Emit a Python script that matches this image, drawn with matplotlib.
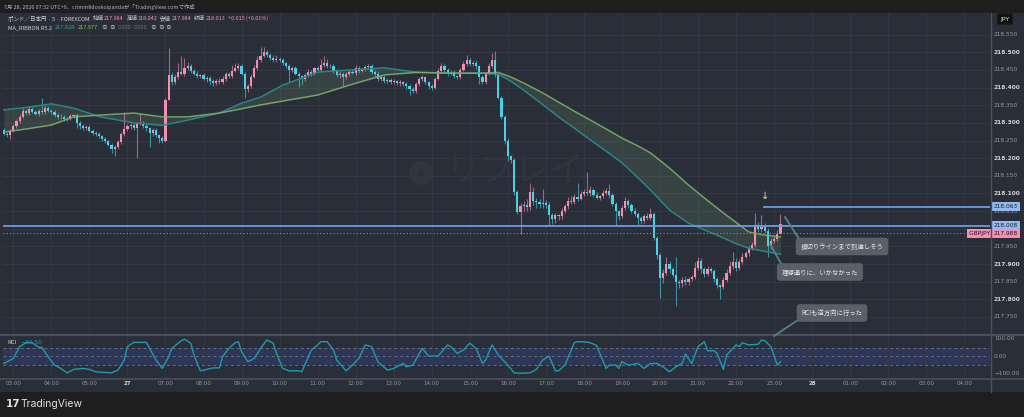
import numpy as np
import matplotlib
matplotlib.use('Agg')
import matplotlib.pyplot as plt
from matplotlib.patches import Rectangle, Circle
from matplotlib.lines import Line2D
from matplotlib.transforms import IdentityTransform

W, H = 1024, 417
FAM = ['Noto Sans CJK JP', 'DejaVu Sans']
plt.rcParams['font.family'] = FAM

# ---------------- data ----------------
closes = [
 218.270,218.265,218.278,218.290,218.305,218.318,218.335,218.328,218.340,218.332,
 218.326,218.335,218.330,218.342,218.335,218.330,218.322,218.316,218.318,218.310,
 218.312,218.320,218.322,218.300,218.292,218.285,218.288,218.278,218.272,218.268,
 218.262,218.255,218.248,218.238,218.225,218.232,218.245,218.268,218.282,218.290,
 218.295,218.285,218.298,218.300,218.292,218.285,218.272,218.280,218.265,218.258,
 218.250,218.365,218.436,218.415,218.430,218.445,218.440,218.455,218.462,218.448,
 218.440,218.432,218.436,218.425,218.428,218.418,218.412,218.420,218.415,218.425,
 218.438,218.432,218.448,218.455,218.462,218.440,218.395,218.405,218.430,218.455,
 218.478,218.490,218.502,218.492,218.485,218.478,218.482,218.478,218.470,218.462,
 218.450,218.455,218.440,218.432,218.425,218.435,218.445,218.440,218.455,218.450,
 218.465,218.470,218.460,218.462,218.448,218.435,218.440,218.430,218.438,218.445,
 218.442,218.455,218.448,218.452,218.458,218.462,218.445,218.440,218.425,218.430,
 218.418,218.422,218.415,218.418,218.412,218.416,218.410,218.405,218.395,218.390,
 218.410,218.425,218.430,218.415,218.405,218.400,218.425,218.448,218.460,218.450,
 218.440,218.445,218.432,218.430,218.450,218.468,218.478,218.466,218.470,218.460,
 218.430,218.415,218.440,218.462,218.478,218.436,218.372,218.318,218.250,218.205,
 218.195,218.105,218.048,218.065,218.068,218.062,218.105,218.078,218.075,218.070,
 218.072,218.068,218.040,218.028,218.038,218.035,218.050,218.065,218.080,218.075,
 218.090,218.085,218.098,218.105,218.100,218.110,218.095,218.088,218.092,218.100,
 218.108,218.095,218.070,218.050,218.035,218.060,218.078,218.068,218.050,218.042,
 218.030,218.022,218.035,218.030,218.042,217.975,217.925,217.860,217.875,217.900,
 217.885,217.870,217.850,217.845,217.855,217.850,217.858,217.862,217.890,217.910,
 217.885,217.872,217.885,217.880,217.858,217.840,217.836,217.855,217.875,217.895,
 217.905,217.890,217.905,217.920,217.930,217.945,217.955,218.010,218.000,218.005,
 217.995,217.950,217.965,217.970,217.984,218.013]
first_open = 218.280

# wick lengths above / below the body, in 0.001 JPY
wick_up = [
 6,5,4,6,5,8,6,5,7,4, 6,5,35,8,5,4,6,5,7,4, 5,6,4,5,6,4,7,5,4,6,
 5,4,6,5,4,5,8,6,50,7, 5,6,4,27,5,6,4,7,5,4, 6,5,75,8,10,25,45,30,12,6,
 5,7,4,6,5,4,7,5,6,8, 5,6,15,15,8,5,4,6,8,10, 12,25,13,6,5,8,10,5,6,4,
 6,5,7,4,5,6,8,5,4,6, 15,20,12,6,5,4,6,5,7,6, 5,8,6,5,7,6,5,4,6,5,
 6,5,4,7,5,6,4,5,6,8, 5,6,7,4,5,6,5,8,10,6, 5,6,4,5,6,8,14,6,5,7,
 5,6,5,8,20,25,6,4,5,6, 5,6,4,8,10,15,25,12,10,8, 40,10,8,6,7,5,8,6,10,12,
 8,40,10,8,55,10,6,8,5,10, 8,20,6,5,4,8,12,6,5,8, 6,5,8,10,18,5,4,6,10,20,
 8,6,50,6,8,10,6,8,15,10, 8,6,10,8,6,5,4,8,10,15, 30,12,8,10,8,6,8,35,10,35,
 12,6,8,10,12,29]
wick_dn = [
 5,6,10,4,5,6,4,5,6,5, 4,6,5,5,4,6,5,4,6,5, 5,4,6,15,8,5,6,4,5,6,
 5,6,5,4,10,18,5,6,4,5, 6,5,85,5,6,8,40,10,6,15, 6,5,0,8,6,5,4,6,5,7,
 5,6,5,4,10,10,8,5,6,4, 5,6,4,5,6,5,25,6,5,4, 5,6,4,5,6,5,4,5,6,5,
 35,6,5,30,18,5,4,6,5,4, 5,6,4,5,6,5,8,25,5,6, 4,5,6,5,4,6,5,8,5,6,
 5,4,6,5,4,6,5,10,15,6, 5,4,6,5,8,6,5,4,6,5, 6,4,5,6,5,4,6,5,4,6,
 20,6,5,4,5,6,5,8,10,12, 8,10,6,63,15,12,8,10,15,12, 10,8,30,15,12,10,6,5,8,6,
 5,6,4,6,5,8,6,5,6,4, 5,8,6,40,10,5,6,8,6,5, 20,8,6,5,6,8,10,55,15,6,
 10,8,70,12,10,8,10,6,5,8, 10,8,6,5,10,8,35,6,5,6, 8,10,6,5,4,6,5,6,8,10,
 6,30,8,6,5,0]

ma_bars = [0,8,15,22,30,41,50,58,68,75,81,88,99,109,120,130,141,151,156,160,164,170,
           175,180,185,190,195,200,204,210,216,222,227,231,235,240,245]
ma_fast = [218.337,218.345,218.354,218.342,218.318,218.300,218.293,218.308,218.328,218.356,
           218.373,218.407,218.444,218.450,218.456,218.444,218.441,218.441,218.438,218.418,
           218.393,218.352,218.317,218.285,218.252,218.220,218.187,218.145,218.110,218.053,
           218.016,217.993,217.974,217.958,217.945,217.936,217.928]
ma_slow = [218.274,218.284,218.294,218.317,218.322,218.328,218.317,218.317,218.328,218.340,
           218.351,218.362,218.379,218.407,218.436,218.443,218.441,218.441,218.443,218.430,
           218.413,218.385,218.359,218.333,218.308,218.283,218.257,218.235,218.215,218.172,
           218.124,218.080,218.045,218.018,217.991,217.982,217.977]

rci_bars = [0,3,5,7,9,11,12,14,16,18,20,22,25,27,29,34,36,38,39,41,45,46,48,50,52,53,56,57,
            59,60,62,64,66,68,69,71,73,74,75,77,79,81,83,85,86,88,90,93,94,97,99,100,102,104,
            105,108,110,112,114,116,118,121,123,126,127,129,132,134,137,140,141,143,145,147,
            149,151,152,154,156,159,161,163,166,168,170,172,174,175,177,180,181,184,186,187,
            190,191,193,194,195,197,200,202,204,206,208,210,212,214,215,217,219,221,222,224,
            225,227,228,230,231,232,233,235,238,239,240,242,244,245]
rci_vals = [-43,-14,55,78,78,51,51,-4,-53,-72,-98,-78,-72,-78,-92,-98,-82,-23,55,80,80,45,-23,
            -72,-4,45,90,98,75,6,-86,-78,-69,-69,-4,45,78,84,26,-33,-14,45,94,75,16,-72,-86,
            -86,-92,35,65,84,84,35,-23,-86,-53,-14,65,55,-33,-82,-72,-43,-63,-53,45,0,0,65,
            55,16,35,75,45,-43,-23,65,6,-53,-98,-100,-98,-78,-23,0,-86,-86,-53,78,84,82,71,
            61,-72,-53,-53,-72,-33,-53,-43,-72,-43,-43,-63,-92,-63,-43,12,-43,55,84,31,31,
            16,-78,6,45,65,55,78,65,69,94,90,55,-53,-33]

hour_labels = ['03:00','04:00','05:00','27','07:00','08:00','09:00','10:00','11:00','12:00',
               '13:00','14:00','15:00','16:00','17:00','18:00','19:00','20:00','21:00','22:00',
               '23:00','28','01:00','02:00','03:00','04:00']
hour_bars = [3 + 12 * k for k in range(len(hour_labels))]

price_ticks = [218.55,218.50,218.45,218.40,218.35,218.30,218.25,218.20,218.15,218.10,
               218.05,217.95,217.90,217.85,217.80,217.75]
stop_line = 218.063
entry_line = 218.008
last_price = 217.988

assert len(closes) == len(wick_up) == len(wick_dn) == 246
assert len(ma_bars) == len(ma_fast) == len(ma_slow)
assert len(rci_bars) == len(rci_vals)

# ---------------- style ----------------
BG = '#2a2e39'
OUT = '#1e1e1e'
GRID = '#343844'
UP = '#f48fb1'
DN = '#4dd0e1'
TXT = '#9598a1'
TXTB = '#d1d4dc'

fig = plt.figure(figsize=(W / 100, H / 100), dpi=100)
fig.patch.set_facecolor(OUT)
renderer = fig.canvas.get_renderer()

def fx(px):
    return px / W

def fy(py):
    return 1 - py / H

fig.patches.append(Rectangle((0, fy(392)), 1, fy(13) - fy(392), transform=fig.transFigure,
                             facecolor=BG, edgecolor='none', zorder=-5))

XL = (-0.25, 311.1)
ax = fig.add_axes([fx(3), fy(334), fx(990) - fx(3), fy(13) - fy(334)])
axr = fig.add_axes([fx(3), fy(378), fx(990) - fx(3), fy(335) - fy(378)], sharex=ax)
for a in (ax, axr):
    a.set_facecolor(BG)
    for s in a.spines.values():
        s.set_visible(False)
    a.tick_params(left=False, bottom=False, labelleft=False, labelbottom=False)
    a.set_xlim(*XL)
    for hb in hour_bars:
        a.axvline(hb, color=GRID, lw=0.7, zorder=0.3)

ax.set_ylim(217.7018, 218.6115)
for p in np.arange(217.75, 218.551, 0.05):
    ax.axhline(p, color=GRID, lw=0.7, zorder=0.3)

# watermark
ax.text(fx(445), fy(171), 'リプレイ', transform=fig.transFigure, fontsize=25,
        color='#31353f', va='center', ha='left', zorder=0.5, family=FAM)
ax.add_patch(Circle((421, H - 173), 12, transform=IdentityTransform(),
                    facecolor='#31353f', edgecolor='none', zorder=0.5))
ax.text(fx(420), fy(173), '«', transform=fig.transFigure, fontsize=11, color='#2a2e39',
        va='center', ha='center', zorder=0.6, fontweight='bold')

# candles
n = len(closes)
bars = np.arange(n)
opens = [first_open] + closes[:-1]
o = np.array(opens)
c = np.array(closes)
up = c >= o
top = np.maximum(o, c)
bot = np.minimum(o, c)
hi = top + np.array(wick_up) * 0.001
lo = bot - np.array(wick_dn) * 0.001
cols = [UP if u else DN for u in up]
ax.vlines(bars, lo, hi, colors=cols, lw=0.8, alpha=0.6, zorder=2)
ax.bar(bars, np.maximum(top - bot, 0.0016), bottom=bot, width=0.68, color=cols,
       linewidth=0, zorder=2.2)

# MA ribbon
ax.fill_between(ma_bars, ma_fast, ma_slow, color='#6e9a6e', alpha=0.2, lw=0, zorder=1.5)
ax.plot(ma_bars, ma_fast, color='#2a8585', lw=1.1, zorder=2.5)
ax.plot(ma_bars, ma_slow, color='#7fb36b', lw=1.1, alpha=0.85, zorder=2.5)

# levels
ax.axhline(entry_line, color='#6a9be0', lw=1.3, zorder=3)
ax.hlines(stop_line, 239.5, XL[1], color='#6a9be0', lw=1.3, zorder=3)
ax.axhline(last_price, color='#8a8d96', lw=0.8, ls=(0, (1, 2)), zorder=3)
ax.text(240.3, 218.092, '↓', fontsize=7, color='#d6e4a8', ha='center', va='center',
        zorder=4, family=['DejaVu Sans'])

# RCI pane
axr.set_ylim(-128, 123)
axr.axhspan(-50, 50, color='#2e3657', lw=0, zorder=0.2)
for v in (-50, 0, 50):
    axr.axhline(v, color='#6b6f7b', lw=0.7, ls=(0, (3, 3)), zorder=0.4)
axr.plot(rci_bars, rci_vals, color='#1f9bad', lw=1.0, zorder=2)

# separators
fig.add_artist(Line2D([0, 1], [fy(334.5), fy(334.5)], transform=fig.transFigure,
                      color='#4b4f5b', lw=1.6))
fig.add_artist(Line2D([0, 1], [fy(378.5), fy(378.5)], transform=fig.transFigure,
                      color='#4b4f5b', lw=1.2))
fig.add_artist(Line2D([fx(990.5), fx(990.5)], [fy(13), fy(392)], transform=fig.transFigure,
                      color='#4b4f5b', lw=1.0))

# right price axis
xr = (994 - 3) / (990 - 3)
for p in price_ticks:
    bold = abs(round(p * 10) - p * 10) < 1e-6
    ax.text(xr, p, f'{p:.3f}', transform=ax.get_yaxis_transform(), fontsize=4.2,
            color=TXTB if bold else TXT, fontweight='bold' if bold else 'normal',
            va='center', ha='left', clip_on=False, family=['DejaVu Sans'])
for p in (stop_line, entry_line):
    ax.text(xr - 0.0005, p, f'{p:.3f}', transform=ax.get_yaxis_transform(), fontsize=4.2,
            color='#15233a', va='center', ha='left', clip_on=False, zorder=6,
            family=['DejaVu Sans'],
            bbox=dict(boxstyle='square,pad=0.35', facecolor='#93b9ef', edgecolor='none'))
ax.text(xr - 0.0005, last_price - 0.001, '217.988', transform=ax.get_yaxis_transform(),
        fontsize=4.2, color='#2a1420', va='center', ha='left', clip_on=False, zorder=6,
        family=['DejaVu Sans'],
        bbox=dict(boxstyle='square,pad=0.35', facecolor=UP, edgecolor='none'))
ax.text((969 - 3) / 987, last_price - 0.001, 'GBPJPY ', transform=ax.get_yaxis_transform(),
        fontsize=4.2, color='#2a1420', va='center', ha='left', clip_on=False, zorder=6,
        family=['DejaVu Sans'],
        bbox=dict(boxstyle='square,pad=0.35', facecolor=UP, edgecolor='none'))
fig.text(fx(1005), fy(19), 'JPY', fontsize=4.5, color=TXTB, ha='center', va='center',
         family=['DejaVu Sans'],
         bbox=dict(boxstyle='round,pad=0.5,rounding_size=0.2', facecolor='#131313',
                   edgecolor='none'))

for v, lab in ((100, '100.00'), (0, '0.00'), (-100, '\u2212100.00')):
    axr.text(xr, v, lab, transform=axr.get_yaxis_transform(), fontsize=4.2, color=TXT,
             va='center', ha='left', clip_on=False, family=['DejaVu Sans'])

# time axis
for hb, lab in zip(hour_bars, hour_labels):
    day = lab in ('27', '28')
    axr.text(hb, -0.13, lab, transform=axr.get_xaxis_transform(), fontsize=4.0,
             color=TXTB if day else TXT, fontweight='bold' if day else 'normal',
             ha='center', va='center', clip_on=False, family=['DejaVu Sans'])

# RCI legend
fig.text(fx(7), fy(342), 'RCI', fontsize=4.3, color=TXTB, va='center', ha='left')
fig.text(fx(20), fy(342), '\u221230.50', fontsize=4.3, color='#1f9bad', va='center', ha='left',
         family=['DejaVu Sans'])

# header texts, scaled to the widths measured on the reference
def seq(x_px, y_px, parts, target_w):
    probe = []
    total = 0
    for s, col, gap in parts:
        t = fig.text(0, 0, s, fontsize=10, family=FAM)
        total += t.get_window_extent(renderer).width
        t.remove()
    gaps = sum(g for _, _, g in parts)
    size = 10 * (target_w - gaps) / total
    x = x_px
    for s, col, gap in parts:
        t = fig.text(fx(x), fy(y_px), s, color=col, fontsize=size, va='center', ha='left',
                     family=FAM)
        x += t.get_window_extent(renderer).width + gap

seq(4, 6.5, [('7月 28, 2026 07:32 UTC+9、crimin8doskoipandaが「TradingView.comで作成',
              '#b2b5be', 0)], 190)
seq(8, 18.5, [('ポンド／日本円 · 5 · FOREXCOM', TXTB, 3), ('始値', TXTB, 0.5),
              ('217.984', UP, 2.5), ('高値', TXTB, 0.5), ('218.042', UP, 2.5),
              ('安値', TXTB, 0.5), ('217.984', UP, 2.5), ('終値', TXTB, 0.5),
              ('218.013', UP, 2.5), ('+0.015 (+0.01%)', UP, 0)], 260)
seq(8, 27.5, [('MA_RIBBON R5.2', TXTB, 3), ('217.928', '#26a69a', 3),
              ('217.977', '#8bc34a', 3), ('∅', TXTB, 2), ('∅', TXTB, 3),
              ('0.000', '#6b6f7b', 3), ('0.000', '#6b6f7b', 3), ('∅', TXTB, 2),
              ('∅', TXTB, 2), ('∅', TXTB, 0)], 164)

# annotations
for (x0, y0, x1, y1) in ((785, 217, 801, 242), (770, 244, 783, 267), (804, 316, 774, 336)):
    fig.add_artist(Line2D([fx(x0), fx(x1)], [fy(y0), fy(y1)], transform=fig.transFigure,
                          color='#55818d', lw=1.3, zorder=7))
for (xc, yc, s) in ((842, 246.5, '損切りラインまで到達しそう'),
                    (820, 272, '理想通りに、いかなかった'),
                    (832, 313, 'RCIも逆方向に行った')):
    fig.text(fx(xc), fy(yc), s, fontsize=4.6, color='#e6e8ee', ha='center', va='center',
             zorder=8, family=FAM,
             bbox=dict(boxstyle='round,pad=0.75,rounding_size=0.5', facecolor='#5b5f69',
                       edgecolor='none'))

# footer logo
fig.text(fx(6), fy(404), '17', fontsize=7.5, color='#e0e0e0', fontweight='bold',
         va='center', ha='left', family=['DejaVu Sans'])
fig.text(fx(21), fy(404), 'TradingView', fontsize=7.5, color='#e0e0e0', va='center',
         ha='left', family=['Inter', 'DejaVu Sans'])

fig.savefig('out.png', dpi=100, facecolor=fig.get_facecolor())
